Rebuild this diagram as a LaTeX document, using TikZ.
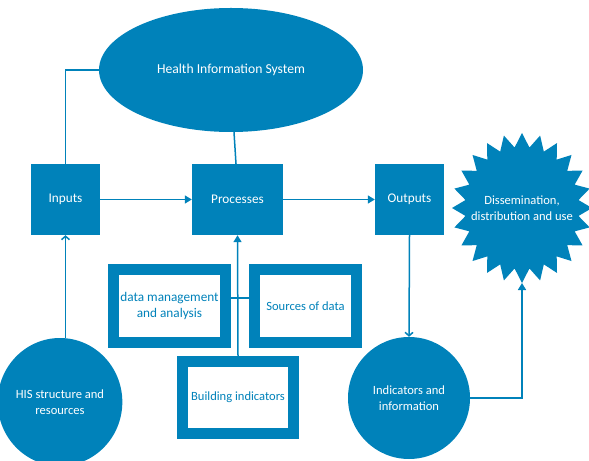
\documentclass[tikz,border=0pt]{standalone}
\usepackage{fontspec}
\setmainfont{Carlito}
\usetikzlibrary{shapes.geometric,arrows.meta}
\definecolor{hisblue}{RGB}{0,130,186}
\begin{document}
\begin{tikzpicture}[x=1bp,y=-1bp,
  font=\fontsize{13.3}{16.5}\selectfont,
  smallfont/.style={font=\fontsize{12.6}{16}\selectfont},
  fillshape/.style={fill=hisblue,text=white,draw=none,align=center,inner sep=0pt},
  blk/.style={fillshape,minimum width=#1,minimum height=71bp},
  hollow/.style={draw=hisblue,line width=11bp,fill=white,text=hisblue,align=center,inner sep=0pt},
  conn/.style={draw=hisblue,line width=1.5bp},
  tri/.style={conn,-{Triangle[length=7bp,width=8bp]}},
  barb/.style={conn,-{Straight Barb[length=3.5bp,width=8bp]}}]
\clip (0,0) rectangle (589,461);
\useasboundingbox (0,0) rectangle (589,461);

\node[fillshape,ellipse,minimum width=264bp,minimum height=124bp,font=\fontsize{13.7}{16.5}\selectfont] (hissys) at (231,70) {Health Information System};
\node[blk=69bp] (inp) at (65.5,199.5) {Inputs};
\node[blk=91bp] (proc) at (237.5,199.5) {Processes};
\node[blk=69bp] (outp) at (409.5,199.5) {Outputs};

% 24-point star
\fill[hisblue,shift={(522,208)}] (0,-75)
  \foreach \i in {1,...,24} {
    -- ({57*cos(90+15*\i-7.5)},{-61*sin(90+15*\i-7.5)})
    -- ({70*cos(90+15*\i)},{-75*sin(90+15*\i)})
  } -- cycle;
\node[fillshape,smallfont] (diss) at (522,208) {Dissemination,\\distribution and use};
\coordinate (dissbot) at (522,283);

\node[hollow,minimum width=112bp,minimum height=73bp,font=\fontsize{13.3}{16.7}\selectfont] (dm) at (169.5,306) {data management\\and analysis};
\node[hollow,smallfont,minimum width=102bp,minimum height=73bp] (src) at (305.5,306) {Sources of data};
\node[hollow,smallfont,minimum width=111bp,minimum height=72bp] (bld) at (238,397.5) {Building indicators};

\node[fillshape,smallfont,ellipse,minimum width=112bp,minimum height=128bp] (hisres) at (60,402) {HIS structure and\\resources};
\node[fillshape,smallfont,circle,minimum size=122bp] (ind) at (409,398) {Indicators and\\information};

\draw[conn] (inp.north) |- (hissys.west);
\draw[conn] ([xshift=-1.5bp]proc.north) -- ([xshift=3bp]hissys.south);
\draw[tri] (inp.east) -- (proc.west);
\draw[tri] (proc.east) -- (outp.west);
\draw[barb] (hisres.north -| inp.south) -- (inp.south);
\draw[tri] (bld.north) -- (proc.south);
\draw[conn] ([yshift=8bp]dm.east) -- ([yshift=8bp]src.west);
\draw[barb] (outp.south) -- (ind.north);
\draw[tri] (ind.east) -| (dissbot);
\end{tikzpicture}
\end{document}
